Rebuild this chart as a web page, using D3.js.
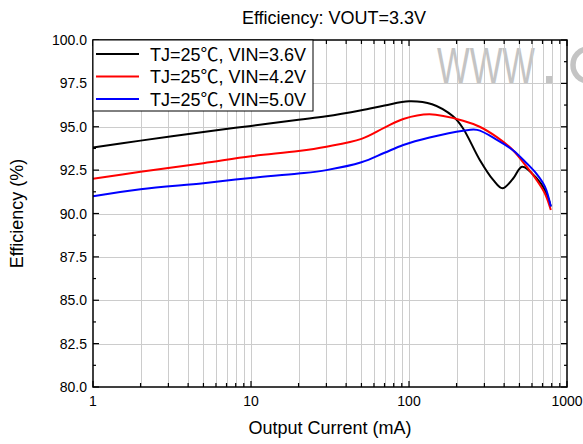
<!DOCTYPE html>
<html><head><meta charset="utf-8">
<script src="https://cdn.jsdelivr.net/npm/d3@7"></script>
<style>
body{margin:0;background:#fff;}
svg text{font-family:"Liberation Sans",Arial,"Noto Sans CJK SC",sans-serif;}
</style></head>
<body><svg id="c" width="583" height="444"></svg>
<script>
const title = "Efficiency: VOUT=3.3V";
const xLabel = "Output Current (mA)";
const yLabel = "Efficiency (%)";
const seriesNames = ["TJ=25℃, VIN=3.6V","TJ=25℃, VIN=4.2V","TJ=25℃, VIN=5.0V"];
const seriesColors = ["#000000","#ff0000","#0000ff"];
const xTicks = [1,10,100,1000];
const yTicks = [80,82.5,85,87.5,90,92.5,95,97.5,100];

const cur36 = [1,2,5,10,20,30,50,70,100,140,190,220,280,340,390,455,520,640,725,790];
const eff36 = [93.8,94.2,94.7,95.05,95.4,95.6,95.95,96.22,96.47,96.3,95.6,94.9,93.1,91.95,91.45,92.0,92.7,92.05,91.35,90.4];
const cur42 = [1,2,5,10,20,30,50,70,92,135,220,280,360,455,555,640,725,790];
const eff42 = [92.0,92.4,92.9,93.3,93.6,93.85,94.3,94.95,95.45,95.72,95.35,95.0,94.4,93.65,92.7,91.95,91.15,90.2];
const cur50 = [1,2,5,10,20,30,50,70,92,135,220,270,360,455,555,640,725,790];
const eff50 = [91.0,91.4,91.75,92.05,92.3,92.5,92.95,93.5,93.95,94.38,94.77,94.82,94.25,93.65,92.9,92.3,91.55,90.4];

const series = [
  {name:seriesNames[0], color:seriesColors[0], x:cur36, y:eff36},
  {name:seriesNames[1], color:seriesColors[1], x:cur42, y:eff42},
  {name:seriesNames[2], color:seriesColors[2], x:cur50, y:eff50}
];

const L=93, R=567, T=40, B=387;
const svg = d3.select("#c");
const x = d3.scaleLog().domain([1,1000]).range([L,R]);
const y = d3.scaleLinear().domain([80,100]).range([B,T]);

const xMinor = [];
[1,10,100].forEach(d=>{for(let k=2;k<=9;k++) xMinor.push(d*k);});
const yMinor = d3.range(81.25,100,2.5);

// watermark
const wm = svg.append("g").attr("fill","#c4c4c4");
wm.append("text").attr("x",437).attr("y",83).attr("font-size",50)
  .attr("textLength",98).attr("lengthAdjust","spacingAndGlyphs").text("WWW");
wm.append("rect").attr("x",546).attr("y",76).attr("width",7).attr("height",7);
wm.append("ellipse").attr("cx",588).attr("cy",65).attr("rx",15).attr("ry",16)
  .attr("fill","none").attr("stroke","#c4c4c4").attr("stroke-width",5.5);

// grid
const grid = svg.append("g").attr("stroke","#cccccc").attr("stroke-width",1);
grid.selectAll(".vx").data(xMinor.concat([10,100])).join("line")
  .attr("x1",d=>Math.round(x(d))+0.5).attr("x2",d=>Math.round(x(d))+0.5).attr("y1",T).attr("y2",B);
grid.selectAll(".hy").data(yTicks.slice(1,-1)).join("line")
  .attr("y1",d=>Math.round(y(d))+0.5).attr("y2",d=>Math.round(y(d))+0.5).attr("x1",L).attr("x2",R);

// lines
const line = d3.line().x(d=>x(d[0])).y(d=>y(d[1])).curve(d3.curveCatmullRom.alpha(0.5));
series.forEach(s=>{
  svg.append("path").datum(s.x.map((v,i)=>[v,s.y[i]]))
    .attr("d",line).attr("fill","none").attr("stroke",s.color).attr("stroke-width",2);
});

// axes box
svg.append("rect").attr("x",L).attr("y",T).attr("width",R-L).attr("height",B-T)
  .attr("fill","none").attr("stroke","#000").attr("stroke-width",1.5);

// ticks (inward)
const tk = svg.append("g").attr("stroke","#000").attr("stroke-width",1.2);
yTicks.forEach(v=>{
  tk.append("line").attr("x1",L).attr("x2",L+6).attr("y1",y(v)).attr("y2",y(v));
  tk.append("line").attr("x1",R).attr("x2",R-6).attr("y1",y(v)).attr("y2",y(v));
});
yMinor.forEach(v=>{
  tk.append("line").attr("x1",L).attr("x2",L+3).attr("y1",y(v)).attr("y2",y(v));
  tk.append("line").attr("x1",R).attr("x2",R-3).attr("y1",y(v)).attr("y2",y(v));
});
xTicks.forEach(v=>{
  tk.append("line").attr("x1",x(v)).attr("x2",x(v)).attr("y1",B).attr("y2",B-6);
  tk.append("line").attr("x1",x(v)).attr("x2",x(v)).attr("y1",T).attr("y2",T+6);
});
xMinor.forEach(v=>{
  tk.append("line").attr("x1",x(v)).attr("x2",x(v)).attr("y1",B).attr("y2",B-4);
  tk.append("line").attr("x1",x(v)).attr("x2",x(v)).attr("y1",T).attr("y2",T+4);
});

// tick labels
svg.append("g").selectAll("text").data(yTicks).join("text")
  .attr("x",L-6).attr("y",d=>y(d)+5).attr("text-anchor","end").attr("font-size",14)
  .text(d=>d3.format(".1f")(d));
svg.append("g").selectAll("text").data(xTicks).join("text")
  .attr("x",d=>x(d)).attr("y",B+19).attr("text-anchor","middle").attr("font-size",14)
  .text(d=>d);

// titles
svg.append("text").attr("x",334).attr("y",24).attr("text-anchor","middle").attr("font-size",18).text(title);
svg.append("text").attr("x",(L+R)/2).attr("y",434).attr("text-anchor","middle").attr("font-size",18).text(xLabel);
svg.append("text").attr("transform",`translate(23,${(T+B)/2}) rotate(-90)`)
  .attr("text-anchor","middle").attr("font-size",18).text(yLabel);

// legend
const lg = svg.append("g");
lg.append("rect").attr("x",L).attr("y",T).attr("width",220).attr("height",71)
  .attr("fill","#fff").attr("stroke","#000").attr("stroke-width",1);
series.forEach((s,i)=>{
  const yy = T+14+i*22.5;
  lg.append("line").attr("x1",L+3).attr("x2",L+46).attr("y1",yy).attr("y2",yy)
    .attr("stroke",s.color).attr("stroke-width",2);
  lg.append("text").attr("x",L+57).attr("y",yy+6.5).attr("font-size",18).text(s.name);
});
</script></body></html>
